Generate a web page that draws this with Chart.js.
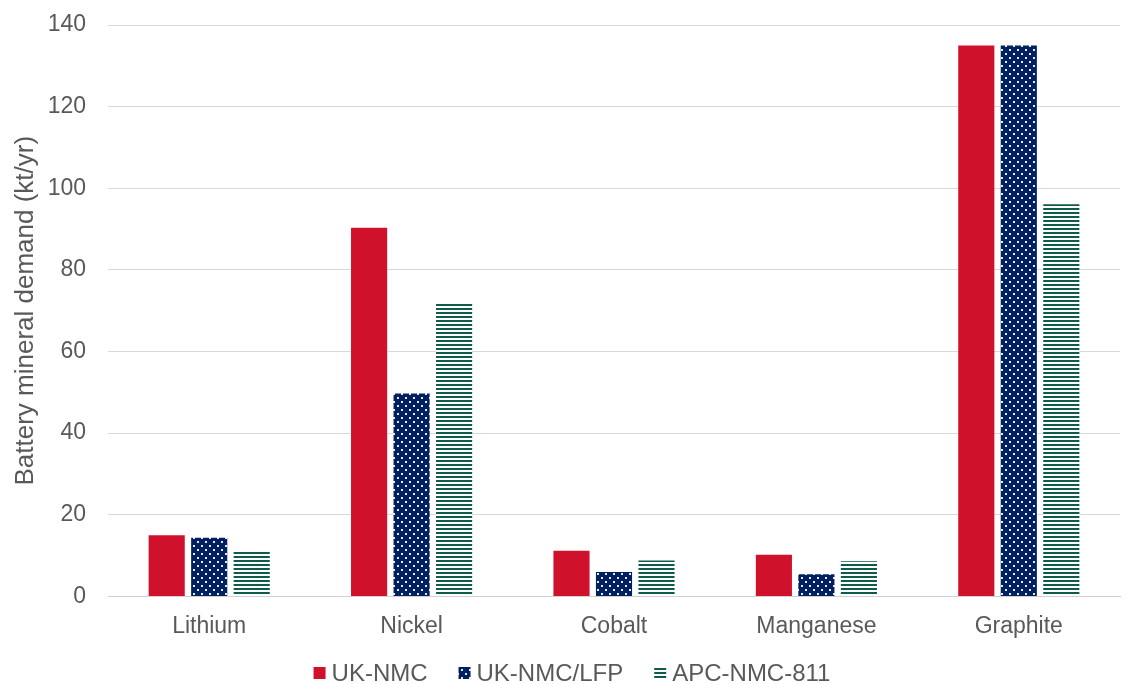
<!DOCTYPE html>
<html>
<head>
<meta charset="utf-8">
<script src="https://cdn.jsdelivr.net/npm/chart.js@4/dist/chart.umd.min.js"></script>
<style>
  html, body { margin: 0; padding: 0; background: #fff; }
  #wrap { width: 1126px; height: 684px; }
</style>
</head>
<body>
<div id="wrap"><canvas id="mineralChart" width="1126" height="684"></canvas></div>
<script>
const minerals = ["Lithium", "Nickel", "Cobalt", "Manganese", "Graphite"];
const ukNmc = [15, 90.3, 11.2, 10.2, 135];
const ukNmcLfp = [14.4, 49.7, 6.0, 5.4, 135];
const apcNmc811 = [11.0, 72.1, 8.8, 8.6, 96.1];
const yTicks = [0, 20, 40, 60, 80, 100, 120, 140];

const FONT = "'Liberation Sans', Arial, sans-serif";

// dotted navy fill
const makeDots = () => {
  const c = document.createElement("canvas");
  c.width = 8;
  c.height = 8;
  const g = c.getContext("2d");
  g.fillStyle = "#002060";
  g.fillRect(0, 0, 8, 8);
  g.fillStyle = "#e4e8f0";
  g.fillRect(1, 1, 2, 2);
  g.fillRect(5, 5, 2, 2);
  return g.createPattern(c, "repeat");
};

// horizontal green stripes
const makeStripes = () => {
  const c = document.createElement("canvas");
  c.width = 4;
  c.height = 4;
  const g = c.getContext("2d");
  g.fillStyle = "#ffffff";
  g.fillRect(0, 0, 4, 4);
  g.fillStyle = "#0e5a4b";
  g.fillRect(0, 0, 4, 2);
  return g.createPattern(c, "repeat");
};

// legend drawn by hand so the box/text gaps match the original
const bottomLegend = {
  id: "bottomLegend",
  afterDraw(chart) {
    const g = chart.ctx;
    const sets = chart.data.datasets;
    const box = 12, gap = 6, spacing = 31;
    g.save();
    g.font = "24px " + FONT;
    g.textBaseline = "middle";
    const widths = sets.map((d) => g.measureText(d.label).width);
    const total = widths.reduce((a, w) => a + box + gap + w, 0) + spacing * (sets.length - 1);
    let x = (chart.width - total) / 2 + 9;
    const y = 673;
    sets.forEach((d, i) => {
      g.fillStyle = d.backgroundColor;
      g.fillRect(x, y - box / 2, box, box);
      x += box + gap;
      g.fillStyle = "#595959";
      g.fillText(d.label, x, y + 1);
      x += widths[i] + spacing;
    });
    g.restore();
  },
};

Chart.defaults.font.family = FONT;
Chart.defaults.color = "#595959";

const ctx = document.getElementById("mineralChart").getContext("2d");
new Chart(ctx, {
  type: "bar",
  data: {
    labels: minerals,
    datasets: [
      { label: "UK-NMC", data: ukNmc, backgroundColor: "#d0112b" },
      { label: "UK-NMC/LFP", data: ukNmcLfp, backgroundColor: makeDots() },
      { label: "APC-NMC-811", data: apcNmc811, backgroundColor: makeStripes() },
    ],
  },
  plugins: [bottomLegend],
  options: {
    responsive: false,
    animation: false,
    layout: { padding: { left: 6, right: 6, top: 0, bottom: 36 } },
    datasets: {
      bar: { barPercentage: 0.85, categoryPercentage: 0.63 },
    },
    scales: {
      x: {
        grid: { display: false },
        border: { color: "#d0d0d0", width: 1 },
        ticks: { font: { size: 23 }, padding: 8 },
      },
      y: {
        min: 0,
        max: 140,
        afterBuildTicks: (axis) => {
          axis.ticks = yTicks.map((v) => ({ value: v }));
        },
        afterFit: (axis) => {
          axis.width = 102;
          axis.paddingTop = 25;
        },
        grid: { color: "#d9d9d9", drawTicks: false },
        border: { display: false },
        ticks: { font: { size: 23 }, padding: 22 },
        title: {
          display: true,
          text: "Battery mineral demand (kt/yr)",
          font: { size: 26 },
          padding: { top: 4, bottom: 4 },
        },
      },
    },
    plugins: {
      legend: { display: false },
      tooltip: { enabled: false },
    },
  },
});
</script>
</body>
</html>
